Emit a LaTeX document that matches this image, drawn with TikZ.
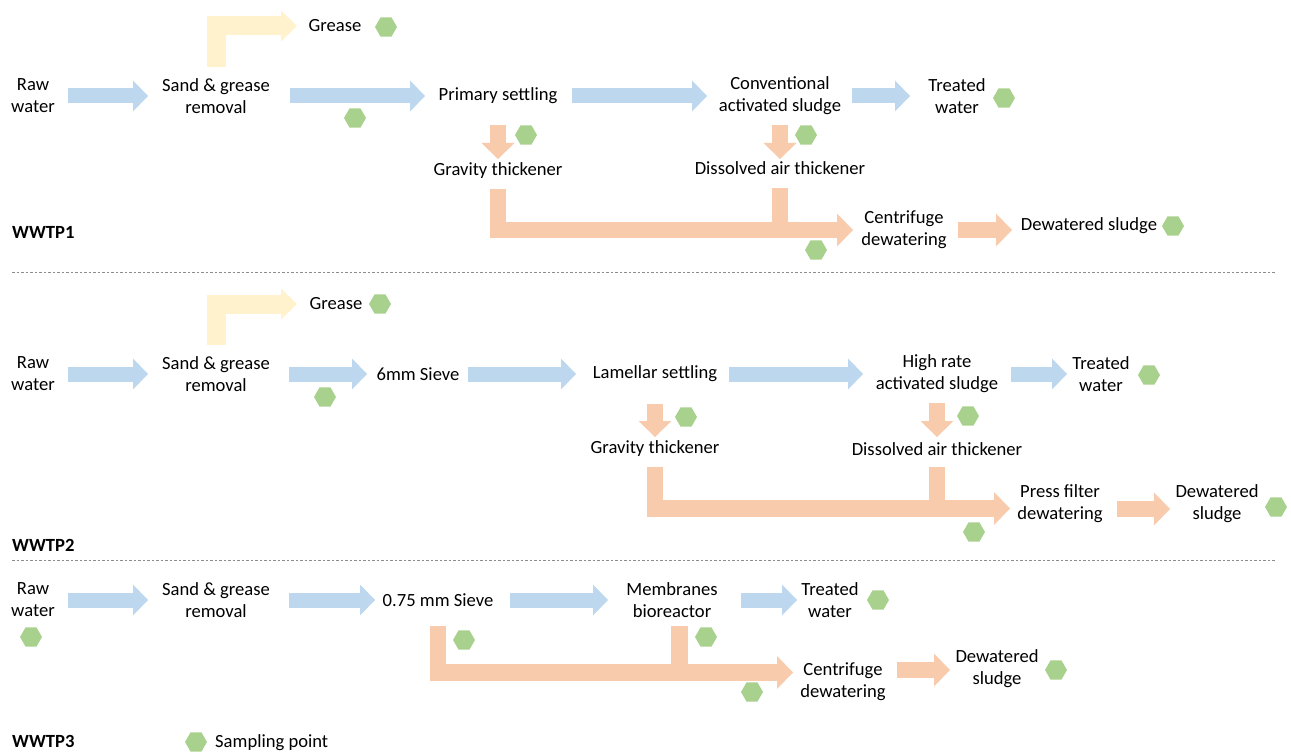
\documentclass[tikz,border=0pt]{standalone}
\usepackage{fontspec}
\setmainfont{Carlito}
\usepackage{tikz}
\usetikzlibrary{shapes.geometric,arrows.meta,calc}
\usepackage{xcolor}
\definecolor{waterblue}{HTML}{BDD7EE}
\definecolor{sludgeorange}{HTML}{F8CBAD}
\definecolor{greaseyellow}{HTML}{FFF2CC}
\definecolor{samplegreen}{HTML}{A9D18E}
\definecolor{sepgrey}{HTML}{8C8C8C}

\begin{document}
\begin{tikzpicture}[x=1pt,y=-1pt,
  every node/.style={font=\fontsize{18.6}{22}\selectfont, inner sep=0pt},
  lbl/.style={align=center},
  plant/.style={anchor=west, font=\fontsize{18.6}{22}\selectfont\bfseries},
  spot/.style={regular polygon, regular polygon sides=6, minimum size=22pt, fill=samplegreen},
  wflow/.style={draw=waterblue, line width=15pt, -{Triangle[length=15pt,width=31pt,line width=0pt]}},
  sflow/.style={draw=sludgeorange, line width=16.5pt, -{Triangle[length=16pt,width=33pt,line width=0pt]}},
  sbar/.style={draw=sludgeorange, line width=16.5pt},
  gflow/.style={draw=greaseyellow, line width=19pt, -{Triangle[length=16pt,width=31pt,line width=0pt]}},
  sep/.style={draw=sepgrey, line width=1pt, dash pattern=on 2.5pt off 2pt}]
\useasboundingbox (0,0) rectangle (1291,754);

% WWTP1
\node[lbl] (raw1) at (33,96) {Raw\\water};
\node[lbl] (sand1) at (216,96) {Sand \& grease\\removal};
\node (grease1) at (335,26) {Grease};
\node (prim1) at (498,96) {Primary settling};
\node[lbl] (cas1) at (780,96) {Conventional\\activated sludge};
\node[lbl] (tw1) at (957,96) {Treated\\water};
\node (grav1) at (498,171) {Gravity thickener};
\node (dat1) at (780,168) {Dissolved air thickener};
\node[lbl] (cent1) at (904,230) {Centrifuge\\dewatering};
\node (dws1) at (1089,226) {Dewatered sludge};
\node[plant] (plant1) at (12,232) {WWTP1};

\draw[gflow, shorten <=29pt, shorten >=38pt] (sand1.center) |- (grease1.center);
\draw[wflow, shorten <=35pt, shorten >=68pt] (raw1.center) -- (sand1.center);
\draw[wflow, shorten <=74pt, shorten >=73pt] (sand1.center) -- (prim1.center);
\draw[wflow, shorten <=74pt, shorten >=73pt] (prim1.center) -- (cas1.center);
\draw[wflow, shorten <=72pt, shorten >=47pt] (cas1.center) -- (tw1.center);
\draw[sflow, shorten <=29pt, shorten >=12pt] (prim1.center) -- (grav1.center);
\draw[sflow, shorten <=29pt, shorten >=9pt] (cas1.center) -- (dat1.center);
\draw[sflow, shorten <=18pt, shorten >=51pt] (grav1.center) |- (cent1.center);
\draw[sbar, shorten <=20pt] (dat1.center) -- (dat1.center |- cent1.center);
\draw[sflow, shorten <=54pt, shorten >=77pt] (cent1.center) -- (cent1.center -| dws1.center);

\node[spot] (s11) at (386,27) {};
\node[spot] (s12) at (355,118) {};
\node[spot] (s13) at (526,135) {};
\node[spot] (s14) at (806,135) {};
\node[spot] (s15) at (1004,98) {};
\node[spot] (s16) at (816,250) {};
\node[spot] (s17) at (1173,226) {};

\draw[sep] (12,273) -- (1275,273);

% WWTP2
\node[lbl] (raw2) at (33,374) {Raw\\water};
\node[lbl] (sand2) at (216,374) {Sand \& grease\\removal};
\node (grease2) at (336,304) {Grease};
\node (sieve2) at (418,374) {6mm Sieve};
\node (lam2) at (655,374) {Lamellar settling};
\node[lbl] (hr2) at (937,374) {High rate\\activated sludge};
\node[lbl] (tw2) at (1101,374) {Treated\\water};
\node (grav2) at (655,449) {Gravity thickener};
\node (dat2) at (937,449) {Dissolved air thickener};
\node[lbl] (pf2) at (1060,504) {Press filter\\dewatering};
\node[lbl] (dws2) at (1217,504) {Dewatered\\sludge};
\node[plant] (plant2) at (12,545) {WWTP2};

\draw[gflow, shorten <=29pt, shorten >=39pt] (sand2.center) |- (grease2.center);
\draw[wflow, shorten <=35pt, shorten >=68pt] (raw2.center) -- (sand2.center);
\draw[wflow, shorten <=73pt, shorten >=51pt] (sand2.center) -- (sieve2.center);
\draw[wflow, shorten <=50pt, shorten >=79pt] (sieve2.center) -- (lam2.center);
\draw[wflow, shorten <=74pt, shorten >=74pt] (lam2.center) -- (hr2.center);
\draw[wflow, shorten <=74pt, shorten >=34pt] (hr2.center) -- (tw2.center);
\draw[sflow, shorten <=30pt, shorten >=12pt] (lam2.center) -- (grav2.center);
\draw[sflow, shorten <=29pt, shorten >=12pt] (hr2.center) -- (dat2.center);
\draw[sflow, shorten <=18pt, shorten >=50pt] (grav2.center) |- ([yshift=-4.5pt]pf2.center);
\draw[sbar, shorten <=18pt] (dat2.center) -- ([yshift=-4.5pt]dat2.center |- pf2.center);
\draw[sflow, shorten <=57pt, shorten >=47pt] ([yshift=-5pt]pf2.center) -- ([yshift=-5pt]dws2.center);

\node[spot] (s21) at (380,304) {};
\node[spot] (s22) at (325,397) {};
\node[spot] (s23) at (686,417) {};
\node[spot] (s24) at (968,416) {};
\node[spot] (s25) at (1149,375) {};
\node[spot] (s26) at (974,532) {};
\node[spot] (s27) at (1276,507) {};

\draw[sep] (12,560) -- (1275,560);

% WWTP3
\node[lbl] (raw3) at (33,600) {Raw\\water};
\node[lbl] (sand3) at (216,600) {Sand \& grease\\removal};
\node (sv3) at (438,600) {0.75 mm Sieve};
\node[lbl] (mbr3) at (672,600) {Membranes\\bioreactor};
\node[lbl] (tw3) at (830,600) {Treated\\water};
\node[lbl] (cd3) at (843,682) {Centrifuge\\dewatering};
\node[lbl] (dw3) at (997,669) {Dewatered\\sludge};
\node[plant] (plant3) at (12,741) {WWTP3};

\draw[wflow, shorten <=35pt, shorten >=68pt] (raw3.center) -- (sand3.center);
\draw[wflow, shorten <=73pt, shorten >=63pt] (sand3.center) -- (sv3.center);
\draw[wflow, shorten <=72pt, shorten >=64pt] (sv3.center) -- (mbr3.center);
\draw[wflow, shorten <=69pt, shorten >=33pt] (mbr3.center) -- (tw3.center);
\draw[sflow, shorten <=26pt, shorten >=50pt] (sv3.center) |- ([yshift=9.5pt]cd3.center);
\draw[sbar, shorten <=26pt] ([xshift=7.5pt]mbr3.center) -- ([xshift=7.5pt,yshift=9.5pt]mbr3.center |- cd3.center);
\draw[sflow, shorten <=54pt, shorten >=47pt] ([yshift=12pt]cd3.center) -- ([yshift=12pt]cd3.center -| dw3.center);

\node[spot] (s31) at (31,637) {};
\node[spot] (s32) at (464,640) {};
\node[spot] (s33) at (706,637) {};
\node[spot] (s34) at (878,600) {};
\node[spot] (s35) at (752,692) {};
\node[spot] (s36) at (1056,670) {};

% legend
\node[spot] (key) at (196,742) {};
\node[anchor=west] (keytext) at (215,743) {Sampling point};
\end{tikzpicture}
\end{document}
